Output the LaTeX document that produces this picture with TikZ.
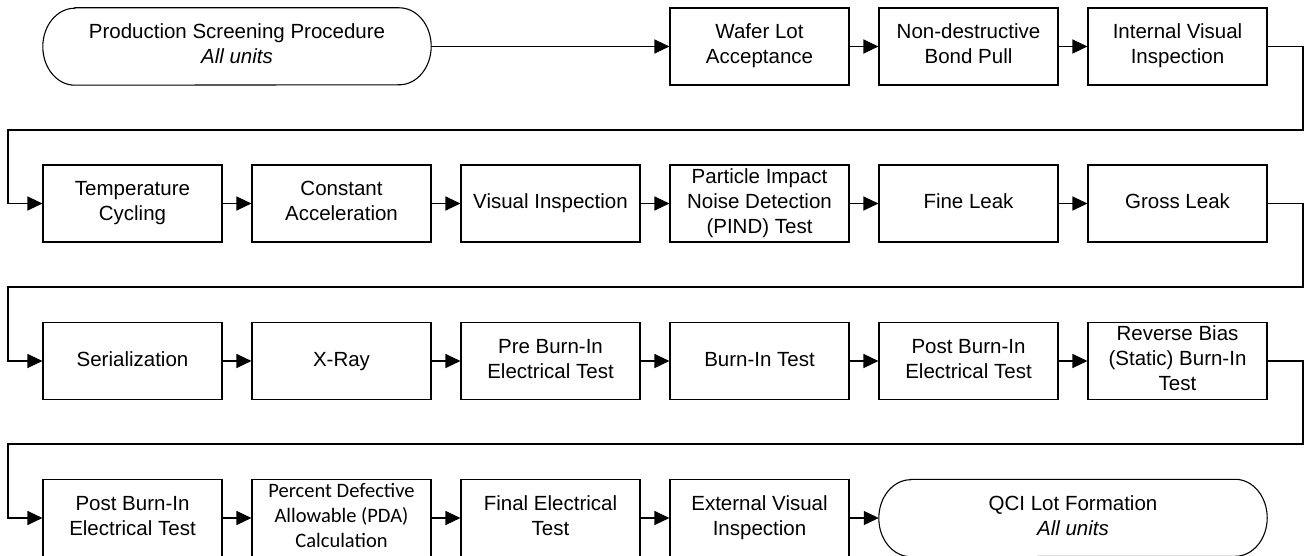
\documentclass[tikz,border=0pt]{standalone}
\usepackage{fontspec}
\setmainfont{Liberation Sans}
\newfontfamily\calfont{Carlito}
\usetikzlibrary{arrows.meta}
\newcommand{\vstrut}{\rule[-5pt]{0pt}{20pt}}
\tikzset{
  stepbox/.style={draw=black, line width=1.1pt, rectangle, minimum width=179pt, minimum height=77pt,
    inner sep=0pt, align=center, font=\fontsize{20.5pt}{25pt}\selectfont, text=black,
    execute at begin node=\vstrut, execute at end node=\vstrut},
  termbox/.style={rectangle, minimum width=388pt, minimum height=77pt, inner sep=0pt,
    align=center, font=\fontsize{20.5pt}{25pt}\selectfont, text=black,
    execute at begin node=\vstrut, execute at end node=\vstrut},
  conn/.style={line width=1.1pt, draw=black, -{Triangle[length=15pt,width=14pt]}},
}
\newcommand{\termdraw}[1]{%
  \draw[line width=1.1pt] ([xshift=32pt]#1.north west) -- ([xshift=-32pt]#1.north east)
    arc[start angle=90, end angle=-90, x radius=32pt, y radius=38.5pt]
    -- ([xshift=32pt]#1.south west)
    arc[start angle=270, end angle=90, x radius=32pt, y radius=38.5pt] -- cycle;}
\begin{document}
\begin{tikzpicture}[x=1pt,y=-1pt]
\useasboundingbox (0,0) rectangle (1305,556);
\clip (0,0) rectangle (1305,556);
% row 1
\node[termbox] (start) at (237,46.5) {Production Screening Procedure\\\textit{All units}};
\termdraw{start}
\node[stepbox] (wla) at (759.5,46.5) {Wafer Lot\\Acceptance};
\node[stepbox] (nbp) at (968.5,46.5) {Non-destructive\\Bond Pull};
\node[stepbox] (ivi) at (1177.5,46.5) {Internal Visual\\Inspection};
% row 2
\node[stepbox] (tc) at (132.5,203.5) {Temperature\\Cycling};
\node[stepbox] (ca) at (341.5,203.5) {Constant\\Acceleration};
\node[stepbox] (vi) at (550.5,203.5) {Visual Inspection};
\node[stepbox] (pind) at (759.5,203.5) {Particle Impact\\Noise Detection\\(PIND) Test};
\node[stepbox] (fl) at (968.5,203.5) {Fine Leak};
\node[stepbox] (gl) at (1177.5,203.5) {Gross Leak};
% row 3
\node[stepbox] (ser) at (132.5,361) {Serialization};
\node[stepbox] (xr) at (341.5,361) {X-Ray};
\node[stepbox] (pre) at (550.5,361) {Pre Burn-In\\Electrical Test};
\node[stepbox] (bi) at (759.5,361) {Burn-In Test};
\node[stepbox] (post1) at (968.5,361) {Post Burn-In\\Electrical Test};
\node[stepbox] (rb) at (1177.5,361) {Reverse Bias\\(Static) Burn-In\\Test};
% row 4
\node[stepbox] (post2) at (132.5,518) {Post Burn-In\\Electrical Test};
\node[stepbox, font=\calfont\fontsize{20.5pt}{25pt}\selectfont] (pda) at (341.5,518) {Percent Defective\\Allowable (PDA)\\Calculation};
\node[stepbox] (fet) at (550.5,518) {Final Electrical\\Test};
\node[stepbox] (evi) at (759.5,518) {External Visual\\Inspection};
\node[termbox] (qci) at (1073,518) {QCI Lot Formation\\\textit{All units}};
\termdraw{qci}
% turn coordinates
\coordinate (r1) at (1303,130);
\coordinate (l1) at (8,130);
\coordinate (r2) at (1303,287);
\coordinate (l2) at (8,287);
\coordinate (r3) at (1303,444);
\coordinate (l3) at (8,444);
% connectors
\draw[conn] (start.east) -- (wla.west);
\draw[conn] (wla) -- (nbp);
\draw[conn] (nbp) -- (ivi);
\draw[conn] (ivi.east) -| (r1) -- (l1) |- (tc.west);
\draw[conn] (tc) -- (ca);
\draw[conn] (ca) -- (vi);
\draw[conn] (vi) -- (pind);
\draw[conn] (pind) -- (fl);
\draw[conn] (fl) -- (gl);
\draw[conn] (gl.east) -| (r2) -- (l2) |- (ser.west);
\draw[conn] (ser) -- (xr);
\draw[conn] (xr) -- (pre);
\draw[conn] (pre) -- (bi);
\draw[conn] (bi) -- (post1);
\draw[conn] (post1) -- (rb);
\draw[conn] (rb.east) -| (r3) -- (l3) |- (post2.west);
\draw[conn] (post2) -- (pda);
\draw[conn] (pda) -- (fet);
\draw[conn] (fet) -- (evi);
\draw[conn] (evi.east) -- (qci.west);
\end{tikzpicture}
\end{document}
